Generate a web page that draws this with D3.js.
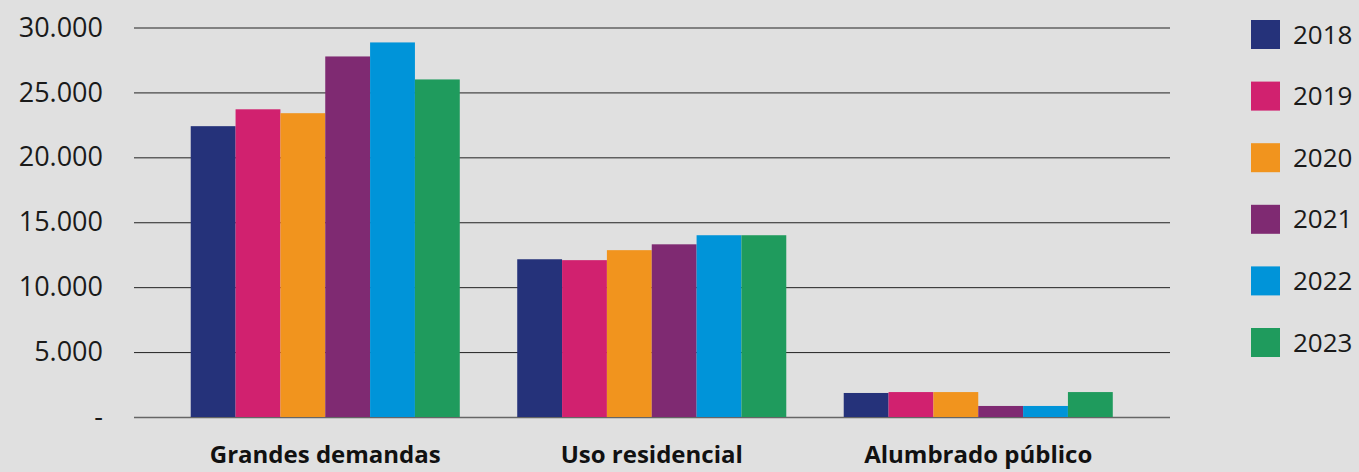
<!DOCTYPE html>
<html>
<head>
<meta charset="utf-8">
<script src="https://cdn.jsdelivr.net/npm/d3@7"></script>
<style>
  body { margin: 0; background: #e0e0e0; }
  svg { display: block; }
</style>
</head>
<body>
<div id="chart"></div>
<script>
// chart data
const categories = ["Grandes demandas", "Uso residencial", "Alumbrado público"];
const years = ["2018", "2019", "2020", "2021", "2022", "2023"];
const colors = ["#25327a", "#d1216f", "#f1941e", "#7f2a72", "#0094d9", "#1f9b5d"];
const v2018 = [22400, 12150, 1850];
const v2019 = [23700, 12080, 1920];
const v2020 = [23400, 12850, 1920];
const v2021 = [27770, 13300, 850];
const v2022 = [28850, 14000, 850];
const v2023 = [26000, 14000, 1920];
const yTicks = [0, 5000, 10000, 15000, 20000, 25000, 30000];

const series = [v2018, v2019, v2020, v2021, v2022, v2023];

const width = 1359, height = 472;
const font = "'Open Sans', sans-serif";

const svg = d3.select("#chart")
    .append("svg")
    .attr("width", width)
    .attr("height", height);

const y = d3.scaleLinear()
    .domain([0, 30000])
    .range([417, 27.5]);

const x0 = d3.scaleBand()
    .domain(categories)
    .range([162, 1141.5])
    .paddingInner(0.176)
    .paddingOuter(0.088);

const x1 = d3.scaleBand()
    .domain(years)
    .range([0, x0.bandwidth()]);

// gridlines + y labels
const fmt = d => d === 0 ? "-" : d3.format(",")(d).replace(/,/g, ".");

const yAxis = svg.append("g")
    .attr("transform", "translate(134,0)")
    .call(d3.axisLeft(y).tickValues(yTicks).tickSize(-1036).tickPadding(31).tickFormat(fmt));

yAxis.select(".domain").remove();
yAxis.selectAll(".tick line")
    .attr("stroke", d => d === 0 ? "#666" : "#222")
    .attr("stroke-width", d => d === 0 ? 1.5 : 1);
yAxis.selectAll(".tick text")
    .attr("font-family", font)
    .attr("font-size", 27)
    .attr("fill", "#1a1a1a");

// bars
const groups = svg.append("g")
    .selectAll("g")
    .data(categories)
    .enter().append("g")
    .attr("transform", c => `translate(${x0(c)},0)`);

groups.selectAll("rect")
    .data((c, i) => years.map((yr, j) => ({ year: yr, value: series[j][i], color: colors[j] })))
    .enter().append("rect")
    .attr("x", d => x1(d.year))
    .attr("y", d => y(d.value))
    .attr("width", x1.bandwidth())
    .attr("height", d => y(0) - y(d.value))
    .attr("fill", d => d.color);

// category labels
svg.append("g")
    .selectAll("text")
    .data(categories)
    .enter().append("text")
    .attr("x", c => x0(c) + x0.bandwidth() / 2)
    .attr("y", 463)
    .attr("text-anchor", "middle")
    .attr("font-family", font)
    .attr("font-weight", "bold")
    .attr("font-size", 24)
    .attr("fill", "#111")
    .text(c => c);

// legend
const legend = svg.append("g")
    .selectAll("g")
    .data(years)
    .enter().append("g")
    .attr("transform", (d, i) => `translate(1251,${20 + i * 61.6})`);

legend.append("rect")
    .attr("width", 29)
    .attr("height", 29)
    .attr("fill", (d, i) => colors[i]);

legend.append("text")
    .attr("x", 42)
    .attr("y", 14.5)
    .attr("dy", "0.35em")
    .attr("font-family", font)
    .attr("font-size", 26)
    .attr("fill", "#1a1a1a")
    .text(d => d);
</script>
</body>
</html>
